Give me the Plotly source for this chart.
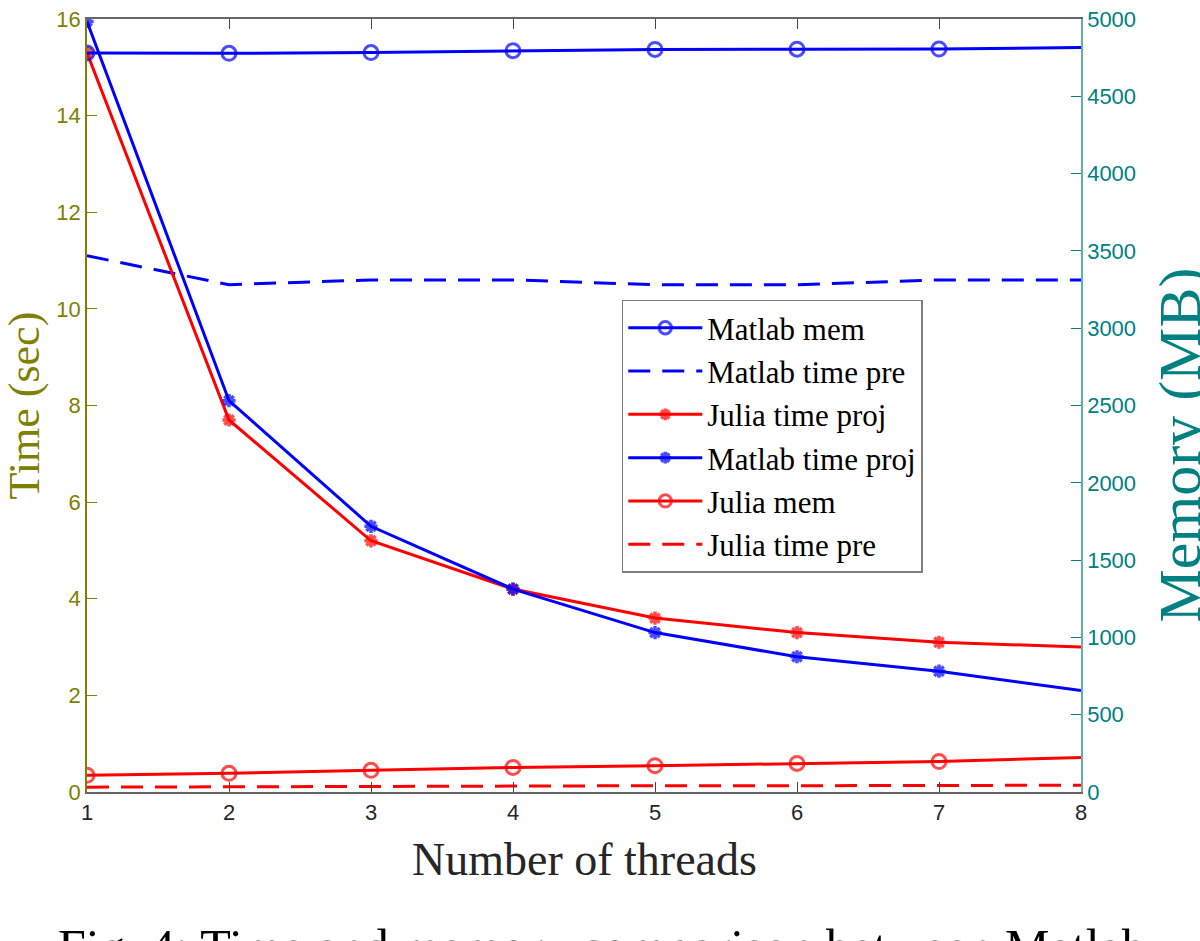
import plotly.graph_objects as go

threads = [1, 2, 3, 4, 5, 6, 7, 8]
matlab_mem = [4780, 4778, 4783, 4795, 4803, 4805, 4806, 4815]
matlab_time_pre = [11.1, 10.5, 10.6, 10.6, 10.5, 10.5, 10.6, 10.6]
julia_time_proj = [15.3, 7.7, 5.2, 4.2, 3.6, 3.3, 3.1, 3.0]
matlab_time_proj = [15.95, 8.1, 5.5, 4.2, 3.3, 2.8, 2.5, 2.1]
julia_mem = [108, 121, 140, 159, 170, 185, 197, 223]
julia_time_pre = [0.10, 0.11, 0.11, 0.12, 0.13, 0.13, 0.14, 0.14]

time_ticks = [0, 2, 4, 6, 8, 10, 12, 14, 16]
mem_ticks = [0, 500, 1000, 1500, 2000, 2500, 3000, 3500, 4000, 4500, 5000]

BLUE = "#0000ff"
RED = "#ff0000"
OLIVE = "#808000"
TEAL = "#008080"
SERIF = "Liberation Serif, Times New Roman, serif"
SANS = "Liberation Sans, Arial, sans-serif"

circ_sizes = [14] * 7 + [0]
star_sizes = [11] * 7 + [0]

fig = go.Figure()
fig.add_trace(go.Scatter(x=threads, y=matlab_mem, yaxis="y2", name="Matlab mem",
                         mode="lines+markers", line=dict(color=BLUE, width=3),
                         marker=dict(symbol="circle-open", size=circ_sizes, color=BLUE,
                                     line=dict(width=3, color=BLUE))))
fig.add_trace(go.Scatter(x=threads, y=matlab_time_pre, name="Matlab time pre",
                         mode="lines", line=dict(color=BLUE, width=3, dash="22px,12px")))
fig.add_trace(go.Scatter(x=threads, y=julia_time_proj, name="Julia time proj",
                         mode="lines+markers", line=dict(color=RED, width=3),
                         marker=dict(symbol="asterisk-open", size=star_sizes, color=RED,
                                     line=dict(width=3.5, color=RED))))
fig.add_trace(go.Scatter(x=threads, y=matlab_time_proj, name="Matlab time proj",
                         mode="lines+markers", line=dict(color=BLUE, width=3),
                         marker=dict(symbol="asterisk-open", size=star_sizes, color=BLUE,
                                     line=dict(width=3.5, color=BLUE))))
fig.add_trace(go.Scatter(x=threads, y=julia_mem, yaxis="y2", name="Julia mem",
                         mode="lines+markers", line=dict(color=RED, width=3),
                         marker=dict(symbol="circle-open", size=circ_sizes, color=RED,
                                     line=dict(width=3, color=RED))))
fig.add_trace(go.Scatter(x=threads, y=julia_time_pre, name="Julia time pre",
                         mode="lines", line=dict(color=RED, width=3, dash="22px,12px")))

fig.update_layout(
    width=1200, height=941,
    margin=dict(l=87, r=119, t=7, b=149),
    paper_bgcolor="white", plot_bgcolor="white",
    showlegend=True,
    legend=dict(x=0.538, y=0.637, xanchor="left", yanchor="top",
                bgcolor="white", bordercolor="#7f7f7f", borderwidth=1.5,
                font=dict(family=SERIF, size=31, color="black"),
                itemwidth=74, tracegroupgap=0),
    xaxis=dict(range=[1, 8], tickvals=threads, ticks="inside", ticklen=10,
               tickcolor="#444444", showline=True, linecolor="#666666", linewidth=1.5,
               mirror="ticks", showgrid=False, zeroline=False,
               tickfont=dict(family=SANS, size=22, color="#262626")),
    yaxis=dict(range=[0, 16], tickvals=time_ticks, ticks="inside", ticklen=10,
               tickcolor=OLIVE, showline=True, linecolor=OLIVE, linewidth=1.5,
               showgrid=False, zeroline=False, ticklabeloverflow="allow",
               tickfont=dict(family=SANS, size=22, color=OLIVE)),
    yaxis2=dict(range=[0, 5000], tickvals=mem_ticks, overlaying="y", side="right",
                ticks="inside", ticklen=10, tickcolor=TEAL, showline=True,
                linecolor="#5fb0b0", linewidth=1.5, showgrid=False, zeroline=False,
                ticklabeloverflow="allow",
                tickfont=dict(family=SANS, size=22, color=TEAL)),
    annotations=[
        dict(text="Time (sec)", xref="paper", yref="paper", x=0, y=0.5,
             xanchor="center", yanchor="middle", xshift=-63, textangle=-90,
             showarrow=False, font=dict(family=SERIF, size=44, color=OLIVE)),
        dict(text="Memory (MB)", xref="paper", yref="paper", x=1, y=0.5,
             xanchor="center", yanchor="middle", xshift=98, yshift=-40, textangle=-90,
             showarrow=False, font=dict(family=SERIF, size=60, color=TEAL)),
        dict(text="Number of threads", xref="paper", yref="paper", x=0.5, y=0,
             xanchor="center", yanchor="top", yshift=-40,
             showarrow=False, font=dict(family=SERIF, size=46, color="#262626")),
        dict(text="Fig. 4: Time and memory comparison between Matlab", xref="paper",
             yref="paper", x=0.5, y=0, xanchor="center", yanchor="top",
             xshift=18, yshift=-125,
             showarrow=False, font=dict(family=SERIF, size=50, color="black")),
    ],
)

fig.write_html("out.html", config={"displayModeBar": False},
               post_script="document.body.style.margin='0';document.body.style.overflow='hidden';")
